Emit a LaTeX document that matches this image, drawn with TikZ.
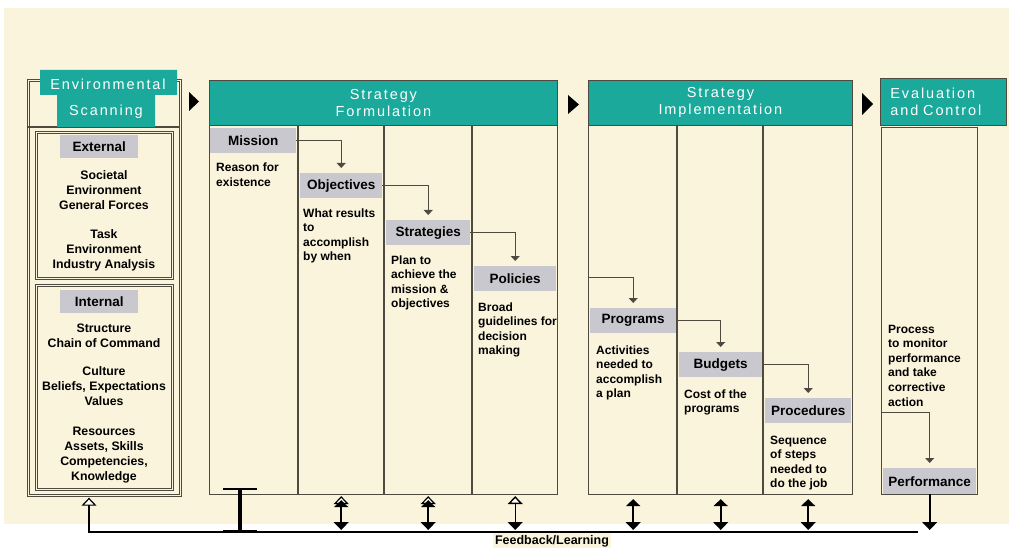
\documentclass[tikz,border=0pt]{standalone}
\usepackage{fontspec}
\setmainfont{Liberation Sans}
\newfontfamily\hdrfont[LetterSpace=13]{Liberation Sans}
\usetikzlibrary{arrows.meta}
\definecolor{cream}{HTML}{FBF4DC}
\definecolor{hdrteal}{HTML}{1AA99B}
\definecolor{lblgrey}{HTML}{C8C8CE}
\definecolor{linec}{HTML}{4E4A40}
\begin{document}
\begin{tikzpicture}[x=1pt,y=-1pt,
  hdr/.style={fill=hdrteal, draw=linec, line width=0.8pt, text=white, font=\hdrfont\fontsize{14.5}{17}\selectfont, inner sep=0pt, anchor=north west},
  esh/.style={text=white, font=\hdrfont\fontsize{14.5}{17}\selectfont, inner sep=0pt},
  lbl/.style={fill=lblgrey, font=\bfseries\fontsize{13.5}{15}\selectfont, inner sep=0pt, anchor=north west, minimum height=25pt},
  body/.style={font=\bfseries\fontsize{12}{14.6}\selectfont, align=left, anchor=base west, inner sep=0pt},
  esbody/.style={font=\bfseries\fontsize{12.3}{15}\selectfont, align=center, anchor=base, inner sep=0pt},
  col/.style={draw=linec, line width=1.1pt},
  box/.style={col, inner sep=0pt, anchor=north west},
  dbl/.style={draw=linec, line width=0.7pt, double=cream, double distance=1.6pt, inner sep=0pt, anchor=north west},
  conn/.style={draw=linec, line width=0.9pt, -{Triangle[width=9pt,length=5pt]}},
  bidir/.style={draw=black, line width=1.6pt, {Triangle[width=14pt,length=7pt]}-{Triangle[width=15pt,length=8pt]}},
  openup/.style={draw=black, line width=1.2pt, -{Triangle[width=15pt,length=8pt,fill=white]}},
  openbidir/.style={draw=black, line width=1.4pt, {Triangle[width=15pt,length=8pt,fill=white]}-{Triangle[width=15pt,length=8pt]}},
  down/.style={draw=black, line width=1.6pt, -{Triangle[width=15pt,length=8pt]}},
  ibeam/.style={draw=black, line width=3.2pt, {Bar[width=34pt,line width=2pt]}-{Bar[width=34pt,line width=2pt]}},
  fbline/.style={draw=black, line width=1.8pt, -{Triangle[width=15pt,length=8pt,fill=white,line width=1.2pt]}}
]
\useasboundingbox (0,0) rectangle (1009,548);
\fill[cream] (4,8) rectangle (1009,524);

% ---------- Environmental Scanning ----------
\node[dbl, minimum width=152pt, minimum height=415pt] (es) at (28,80) {};
\draw[col] (28,127) -- (180,127);
\fill[hdrteal] (40,70) -- (177,70) -- (177,95) -- (155,95) -- (155,127) -- (57,127) -- (57,95) -- (40,95) -- cycle;
\node[esh] (esh1) at (108,84) {Environmental};
\node[esh] (esh2) at (106,112) {Scanning};
\node[dbl, minimum width=136pt, minimum height=146pt] (ext) at (36,132) {};
\node[dbl, minimum width=136pt, minimum height=204pt] (int) at (36,285) {};
\node[lbl, minimum width=78pt, minimum height=23pt] (extl) at (60,135) {External};
\node[lbl, minimum width=78pt, minimum height=23pt] (intl) at (60,290) {Internal};
\node[esbody] (ext1) at (104,210) {Societal\\Environment\\General Forces};
\node[esbody] (ext2) at (104,268) {Task\\Environment\\Industry Analysis};
\node[esbody] (int1) at (104,347) {Structure\\Chain of Command};
\node[esbody] (int2) at (104,405) {Culture\\Beliefs, Expectations\\Values};
\node[esbody] (int3) at (104,480) {Resources\\Assets, Skills\\Competencies,\\Knowledge};

% ---------- Strategy Formulation ----------
\node[box, minimum width=348pt, minimum height=369pt] (sf) at (209,125) {};
\foreach \x in {298,384,472} \draw[col] (\x,125) -- (\x,494);
\node[hdr, minimum width=348pt, minimum height=45pt, align=center] (sfh) at (209,80) {Strategy\\Formulation};
\node[lbl, minimum width=86pt] (mission) at (210,128) {Mission};
\node[lbl, minimum width=82pt] (objectives) at (300,173) {Objectives};
\node[lbl, minimum width=84pt] (strategies) at (386,220) {Strategies};
\node[lbl, minimum width=82pt] (policies) at (474,266) {Policies};
\node[body] (missiont) at (216,186.6) {Reason for\\existence};
\node[body] (objectivest) at (303,260.8) {What results\\to\\accomplish\\by when};
\node[body] (strategiest) at (391,307.8) {Plan to\\achieve the\\mission \&\\objectives};
\node[body] (policiest) at (478,354.8) {Broad\\guidelines for\\decision\\making};
\draw[conn] (mission.east) -| ([yshift=5pt]objectives.north);
\draw[conn] (objectives.east) -| ([yshift=5pt]strategies.north);
\draw[conn] (strategies.east) -| ([yshift=5pt]policies.north);

% ---------- Strategy Implementation ----------
\node[box, minimum width=264pt, minimum height=369pt] (si) at (588,125) {};
\foreach \x in {677,763} \draw[col] (\x,125) -- (\x,494);
\node[hdr, minimum width=264pt, minimum height=45pt, align=center] (sih) at (588,80) {Strategy\\Implementation};
\node[lbl, minimum width=86pt] (programs) at (590,308) {Programs};
\node[lbl, minimum width=83pt] (budgets) at (679,352) {Budgets};
\node[lbl, minimum width=86pt] (procedures) at (765,398) {Procedures};
\node[body] (programst) at (596,397.8) {Activities\\needed to\\accomplish\\a plan};
\node[body] (budgetst) at (684,412.6) {Cost of the\\programs};
\node[body] (procedurest) at (770,487.8) {Sequence\\of steps\\needed to\\do the job};
\coordinate (siin) at (588,277);
\draw[conn] (siin) -| ([yshift=5pt]programs.north);
\draw[conn] (programs.east) -| ([yshift=5pt]budgets.north);
\draw[conn] (budgets.east) -| ([yshift=5pt]procedures.north);

% ---------- Evaluation and Control ----------
\node[box, minimum width=96pt, minimum height=367pt] (ec) at (881,127) {};
\node[hdr, minimum height=47pt, text width=106pt, inner xsep=10pt, align=left] (ech) at (880,78) {Evaluation\\and Control};
\node[lbl, minimum width=93pt, minimum height=26pt] (performance) at (883,468) {Performance};
\node[body] (evalt) at (888,406) {Process\\to monitor\\performance\\and take\\corrective\\action};
\coordinate (ecin) at (881,412);
\draw[conn] (ecin) -| ([yshift=5pt]performance.north);

% ---------- phase markers ----------
\fill[black] (189,92) -- (199,101.5) -- (189,111) -- cycle;
\fill[black] (568,95) -- (579,104.5) -- (568,114) -- cycle;
\fill[black] (862,93) -- (873,104) -- (862,115) -- cycle;

% ---------- feedback ----------
\coordinate (fbL) at (89,532);
\coordinate (fbR) at (918,532);
\draw[fbline] (fbR) -- (fbL) -- ([yshift=-2pt]es.south -| fbL);
\coordinate (ibt) at (240,488);
\draw[ibeam] (ibt) -- (ibt |- fbL);
\foreach \n in {objectives,strategies}{
  \draw[openup] ([yshift=-14pt]\n.center |- sf.south) -- ([yshift=-1pt]\n.center |- sf.south);
  \draw[bidir] ([yshift=-5pt]\n.center |- sf.south) -- ([yshift=2pt]\n.center |- fbL);
}
\draw[openbidir] ([yshift=-1pt]policies.center |- sf.south) -- ([yshift=2pt]policies.center |- fbL);
\foreach \n in {programs,budgets,procedures}{
  \draw[bidir] ([yshift=-4pt]\n.center |- si.south) -- ([yshift=2pt]\n.center |- fbL);
}
\draw[down] (performance.south) -- ([yshift=2pt]performance.south |- fbL);
\node[font=\bfseries\fontsize{12.5}{14}\selectfont, fill=cream, inner sep=2pt] (fbt) at (552,541) {Feedback/Learning};
\end{tikzpicture}
\end{document}
